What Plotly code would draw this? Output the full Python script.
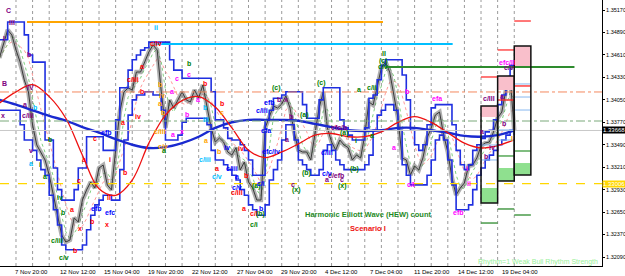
import plotly.graph_objects as go
import pandas as pd

# ---------------- data ----------------
# x = trading hours since Thu 8 Nov 2012 00:00 (H1 bars, weekends removed)
bar_hours = list(range(-24, 721, 6))
close_price = [
    1.34572, 1.34734, 1.34921, 1.34859, 1.34672, 1.34522, 1.34297, 1.34148, 1.33736, 1.33487,
    1.33400, 1.33300, 1.33113, 1.32863, 1.32577, 1.32365, 1.32277, 1.32302, 1.32577, 1.32527,
    1.32801, 1.32926, 1.33026, 1.32951, 1.33200, 1.33237, 1.32988, 1.32926, 1.33425, 1.33898,
    1.34148, 1.34198, 1.34173, 1.34397, 1.34397, 1.34522, 1.34647, 1.34734, 1.34672, 1.34148,
    1.33699, 1.34048, 1.33948, 1.34048, 1.34148, 1.34048, 1.34023, 1.34173, 1.34073, 1.34235,
    1.33986, 1.33699, 1.33524, 1.33574, 1.33524, 1.33400, 1.33362, 1.33454, 1.33175, 1.33275,
    1.33026, 1.32951, 1.32801, 1.32801, 1.33699, 1.33836, 1.33973, 1.33948, 1.33998, 1.34098,
    1.33948, 1.33649, 1.33425, 1.33400, 1.33400, 1.33300, 1.33649, 1.33948, 1.34148, 1.33699,
    1.33524, 1.33425, 1.33549, 1.33487, 1.33454, 1.33300, 1.33362, 1.33325, 1.33612, 1.34023,
    1.33986, 1.34235, 1.34447, 1.34522, 1.34397, 1.34110, 1.33824, 1.33325, 1.33300, 1.33113,
    1.33225, 1.33175, 1.33325, 1.33574, 1.33699, 1.33861, 1.33898, 1.33612, 1.33400, 1.33075,
    1.32863, 1.32951, 1.33013, 1.33225, 1.33237, 1.33325, 1.33474, 1.33512, 1.33524, 1.33649,
    1.33824, 1.33898, 1.34173, 1.34347, 1.33668]
upper_channel = [
    1.3480, 1.3480, 1.3502, 1.3502, 1.3502, 1.3502, 1.3486, 1.3461, 1.3452, 1.3452,
    1.3452, 1.3355, 1.3355, 1.3320, 1.3293, 1.3280, 1.3280, 1.3280, 1.3293, 1.3320,
    1.3320, 1.3359, 1.3359, 1.3359, 1.3359, 1.3342, 1.3342, 1.3342, 1.3380, 1.3420,
    1.3420, 1.3442, 1.3455, 1.3461, 1.3467, 1.3470, 1.3477, 1.3477, 1.3477, 1.3477,
    1.3477, 1.3455, 1.3442, 1.3442, 1.3432, 1.3432, 1.3432, 1.3432, 1.3432, 1.3432,
    1.3432, 1.3415, 1.3380, 1.3380, 1.3370, 1.3357, 1.3355, 1.3355, 1.3349, 1.3342,
    1.3330, 1.3311, 1.3311, 1.3311, 1.3380, 1.3392, 1.3407, 1.3407, 1.3411, 1.3415,
    1.3415, 1.3415, 1.3415, 1.3399, 1.3382, 1.3382, 1.3382, 1.3405, 1.3420, 1.3420,
    1.3420, 1.3420, 1.3380, 1.3370, 1.3361, 1.3355, 1.3355, 1.3355, 1.3370, 1.3407,
    1.3411, 1.3430, 1.3448, 1.3455, 1.3455, 1.3455, 1.3455, 1.3436, 1.3405, 1.3367,
    1.3349, 1.3342, 1.3349, 1.3374, 1.3395, 1.3399, 1.3399, 1.3399, 1.3399, 1.3374,
    1.3342, 1.3324, 1.3318, 1.3324, 1.3342, 1.3349, 1.3357, 1.3365, 1.3367, 1.3380,
    1.3399, 1.3411, 1.3430, 1.3448, 1.3448]
lower_channel = [
    1.3392, 1.3392, 1.3392, 1.3392, 1.3392, 1.3374, 1.3355, 1.3355, 1.3342, 1.3330,
    1.3318, 1.3311, 1.3286, 1.3268, 1.3249, 1.3224, 1.3218, 1.3218, 1.3218, 1.3218,
    1.3224, 1.3243, 1.3261, 1.3274, 1.3280, 1.3286, 1.3286, 1.3280, 1.3280, 1.3318,
    1.3355, 1.3386, 1.3405, 1.3411, 1.3411, 1.3415, 1.3415, 1.3411, 1.3411, 1.3392,
    1.3355, 1.3355, 1.3355, 1.3361, 1.3377, 1.3382, 1.3382, 1.3382, 1.3382, 1.3382,
    1.3374, 1.3342, 1.3330, 1.3330, 1.3324, 1.3318, 1.3311, 1.3305, 1.3293, 1.3286,
    1.3274, 1.3268, 1.3261, 1.3261, 1.3274, 1.3305, 1.3318, 1.3330, 1.3355, 1.3374,
    1.3374, 1.3355, 1.3330, 1.3324, 1.3318, 1.3311, 1.3311, 1.3318, 1.3342, 1.3349,
    1.3342, 1.3330, 1.3324, 1.3318, 1.3318, 1.3318, 1.3318, 1.3318, 1.3324, 1.3336,
    1.3367, 1.3386, 1.3392, 1.3399, 1.3399, 1.3392, 1.3367, 1.3324, 1.3311, 1.3299,
    1.3299, 1.3299, 1.3299, 1.3311, 1.3330, 1.3355, 1.3361, 1.3355, 1.3330, 1.3299,
    1.3268, 1.3268, 1.3268, 1.3274, 1.3293, 1.3311, 1.3320, 1.3330, 1.3336, 1.3342,
    1.3349, 1.3355, 1.3361, 1.3367, 1.3361]

ma_hours = list(range(-24, 721, 24))
red_ma = [1.3401, 1.3415, 1.3424, 1.3409, 1.3382, 1.3336, 1.3294, 1.3286, 1.3305, 1.3351,
          1.3386, 1.3404, 1.3409, 1.3396, 1.3370, 1.3342, 1.3333, 1.3340, 1.3350, 1.3361,
          1.3363, 1.3359, 1.3359, 1.3365, 1.3377, 1.3384, 1.3377, 1.3364, 1.3351, 1.3345,
          1.3348, 1.3355]
blue_ma = [1.3405, 1.3399, 1.3392, 1.3385, 1.3379, 1.3371, 1.3364, 1.3356, 1.3349, 1.3345,
           1.3346, 1.3351, 1.3359, 1.3370, 1.3377, 1.3380, 1.3380, 1.3380, 1.3379, 1.3375,
           1.3371, 1.3367, 1.3366, 1.3367, 1.3370, 1.3370, 1.3367, 1.3364, 1.3360, 1.3359,
           1.3361, 1.3367]

tick_hours = [-4, 60, 124, 188, 252, 316, 380, 444, 508, 572, 636, 700]
tick_text = ["7 Nov 20:00", "12 Nov 12:00", "15 Nov 04:00", "19 Nov 20:00", "22 Nov 12:00",
             "27 Nov 04:00", "29 Nov 20:00", "4 Dec 12:00", "7 Dec 04:00", "11 Dec 20:00",
             "14 Dec 12:00", "19 Dec 04:00"]
price_ticks = [1.32090, 1.32370, 1.32650, 1.32930, 1.33210, 1.33490, 1.33770,
               1.34050, 1.34330, 1.34610, 1.34890, 1.35170]
day_starts = list(range(0, 721, 24))

# horizontal target segments
seg_price = [1.35021, 1.34746, 1.34460]
seg_start = [15.9, 200.3, 534.6]
seg_end = [530.3, 631.0, 807.0]
# full-width levels
level_price = [1.34148, 1.33786, 1.33668, 1.33006]
bid_price = 1.33668
level_tag = 1.33006

# daily pivot boxes
box_start = [672, 696, 720]
box_end = [696, 720, 744]
box_top = [1.33973, 1.34347, 1.34721]
box_pink_bottom = [1.33836, 1.34173, 1.34472]
box_green_top = [1.32951, 1.33200, 1.33262]
box_bottom = [1.32764, 1.33038, 1.33113]
box_red_above = [1.34335, 1.34672, 1.35033]
box_green_below = [1.32514, 1.32689, 1.32614]
box_red_inner = [None, 1.34048, 1.34223]
box_green_inner = [None, 1.33350, 1.33412]
box_blue_inner_a = [1.33487, 1.33674, 1.34248]
box_blue_inner_b = [1.33300, 1.33549, 1.34085]
box_blue_inner_c = [None, None, 1.33923]

# wave labels per colour group
purple_h = [-11.5, -5.8, -17.3, -15.9, 18.7, 21.6, 13, 17.3, -18.7, 21.6, 400.6, 392, 449.6, 462.6,
            471.2, 380.4, 390.5, 397.7, 466.9, 711.9, 683, 701.8, 704.6, 673, 687.4, 678.7]
purple_p = [1.3517, 1.3502, 1.3482, 1.3426, 1.3461, 1.3421, 1.3399, 1.3385, 1.3386, 1.3342, 1.3300,
            1.3356, 1.3306, 1.3311, 1.3306, 1.3406, 1.3406, 1.3384, 1.3370, 1.3445, 1.3407, 1.3409,
            1.3376, 1.3365, 1.3346, 1.3334]
purple_t = ["C", "III", "I", "B", "b", "IV", "a", "c/iii", "x", "v", "c", "a", "a", "c/efb",
            "c", "b", "x", "b", "efc/b", "c/v", "c/III", "a", "b", "a", "iv", "b"]
red_h = [85, 92.2, 80.7, 90.8, 98, 109.5, 131.1, 134, 157, 135.5, 113.8, 154.2, 175.8, 168.6,
         181.6, 181.6, 201.7, 272.4, 298.3, 291.1, 333, 320, 330, 344.4, 325.7]
red_p = [1.3217, 1.3244, 1.3268, 1.3305, 1.3330, 1.3253, 1.3250, 1.3283, 1.3315, 1.3330, 1.3357,
         1.3377, 1.3384, 1.3430, 1.3446, 1.3416, 1.3475, 1.3426, 1.3400, 1.3319, 1.3311, 1.3290,
         1.3270, 1.3263, 1.3344]
red_t = ["b", "x", "a", "c", "a", "b", "x", "II", "b", "i", "c", "a", "iv", "c/iii",
         "a", "b", "c/iv", "b", "b", "a", "b", "c/iii", "a", "c/i", "iv"]
green_h = [34.6, 41.8, 49, 63.4, 67.7, 59, 69.2, 250.7, 213.3, 353, 344.4, 347.3, 405, 419.3,
           471.2, 488.5, 491.4, 514.4, 376.1, 416.4, 441, 474.1, 495.7, 514.4, 531.7, 531.7, 530.3]
green_p = [1.3324, 1.3309, 1.3356, 1.3283, 1.3264, 1.3230, 1.3209, 1.3450, 1.3342, 1.3263, 1.3250,
           1.3298, 1.3293, 1.3314, 1.3298, 1.3319, 1.3354, 1.3360, 1.3420, 1.3386, 1.3426, 1.3364,
           1.3418, 1.3420, 1.3463, 1.3453, 1.3446]
green_t = ["i", "a", "b", "iv", "b", "c/iii", "c/v", "b", "a", "(b)", "c/i", "(a)", "(x)", "(b)",
           "(x)", "(b)", "i", "a", "(c)", "(a)", "(c)", "(a)", "a", "c/ii", "II", "(c)", "c/v"]
blue_h = [116.7, 135.5, 131.1, 312.7, 320, 320, 354.5, 354.5, 369, 305.5, 449.6, 449.6, 366,
          355.9, 361.7]
blue_p = [1.3270, 1.3264, 1.3364, 1.3320, 1.3309, 1.3296, 1.3270, 1.3301, 1.3341, 1.3345, 1.3339,
          1.3313, 1.3402, 1.3392, 1.3367]
blue_t = ["efb", "efc", "efb", "c/iii", "a", "c/v", "b", "c/i", "efc/iv", "iv", "c/iii", "c/v",
          "efb", "c/iii", "efa"]
orange_h = [207.5, 210.4, 207.5, 211.8, 207.5, 211.8, 298.3, 275.2, 294, 716.2]
orange_p = [1.3424, 1.3411, 1.3400, 1.3389, 1.3365, 1.3347, 1.3389, 1.3354, 1.3340, 1.3357]
orange_t = ["b", "iv", "a", "b", "c/iii", "c/v", "c", "a", "b", "I"]
magenta_h = [232, 250.7, 224.8, 246.4, 262.3, 239.2, 226.2, 546.1, 608.1, 564.9, 570.6, 639.8,
             654.2, 651.3, 709]
magenta_p = [1.3431, 1.3437, 1.3415, 1.3387, 1.3406, 1.3365, 1.3362, 1.3345, 1.3407, 1.3415,
             1.3299, 1.3264, 1.3301, 1.3320, 1.3452]
magenta_t = ["c", "c", "a", "b", "a", "x", "a", "a", "efa", "b", "c/I", "efb", "ii", "i", "efc/II"]
cyan_h = [27.4, 21.6, 201.7, 272.4, 275.2, 272.4, 291.1]
cyan_p = [1.3395, 1.3326, 1.3495, 1.3395, 1.3380, 1.3331, 1.3309]
cyan_t = ["b", "a", "ii", "b", "iii", "c/iii", "c/v"]

# ---------------- figure ----------------
FONT = "Liberation Sans, Arial, sans-serif"
fig = go.Figure()

close_s = pd.Series(close_price)
fast_ma = close_s.rolling(3, min_periods=1).mean()
slow_ma = close_s.rolling(6, min_periods=1).mean()

fig.add_trace(go.Scatter(x=bar_hours, y=slow_ma, mode="lines",
                         line=dict(color="#ff9a9a", width=1, dash="dot")))
fig.add_trace(go.Scatter(x=bar_hours, y=fast_ma, mode="lines",
                         line=dict(color="#7fcf7f", width=1, dash="dot")))
fig.add_trace(go.Scatter(x=bar_hours, y=close_price, mode="lines",
                         line=dict(color="rgba(95,95,95,0.5)", width=4.5)))
fig.add_trace(go.Scatter(x=bar_hours, y=close_price, mode="lines",
                         line=dict(color="#3a3a3a", width=1)))
fig.add_trace(go.Scatter(x=bar_hours, y=upper_channel, mode="lines",
                         line=dict(color="#1f2fe0", width=1.6, shape="hv")))
fig.add_trace(go.Scatter(x=bar_hours, y=lower_channel, mode="lines",
                         line=dict(color="#1f2fe0", width=1.6, shape="hv")))
fig.add_trace(go.Scatter(x=ma_hours, y=blue_ma, mode="lines",
                         line=dict(color="#1a2ad0", width=2.4, shape="spline")))
fig.add_trace(go.Scatter(x=ma_hours, y=red_ma, mode="lines",
                         line=dict(color="#ee1111", width=1.3, shape="spline")))

seg_colors = ["#FFA500", "#00BFFF", "#2E8B2E"]
for p, s, e, c in zip(seg_price, seg_start, seg_end, seg_colors):
    fig.add_trace(go.Scatter(x=[s, e], y=[p, p], mode="lines", line=dict(color=c, width=2)))

shapes = []
for d in day_starts:
    shapes.append(dict(type="line", xref="x", yref="paper", x0=d, x1=d, y0=0, y1=1,
                       line=dict(color="#9a9a9a", width=1, dash="dot"), layer="below"))
level_styles = [("#F4895F", "dashdot", 1), ("#7AA97A", "dashdot", 1),
                ("#C8C8C8", "solid", 1), ("#FFD700", "dash", 1.2)]
for p, (c, dsh, w) in zip(level_price, level_styles):
    shapes.append(dict(type="line", xref="paper", yref="y", x0=0, x1=1, y0=p, y1=p,
                       line=dict(color=c, width=w, dash=dsh)))

for i in range(3):
    x0, x1 = box_start[i], box_end[i]
    shapes.append(dict(type="rect", x0=x0, x1=x1, y0=box_pink_bottom[i], y1=box_top[i],
                       fillcolor="#F9BFCB", line=dict(width=0)))
    shapes.append(dict(type="rect", x0=x0, x1=x1, y0=box_bottom[i], y1=box_green_top[i],
                       fillcolor="#8FE08F", line=dict(width=0)))
    for val, col, w in [(box_red_above[i], "#FF3030", 1.3), (box_green_below[i], "#2E8B2E", 1.3),
                        (box_red_inner[i], "#FF2020", 1.3), (box_green_inner[i], "#3C9A3C", 1.3),
                        (box_blue_inner_a[i], "#87B8F0", 1), (box_blue_inner_b[i], "#87B8F0", 1),
                        (box_blue_inner_c[i], "#87B8F0", 1)]:
        if val is not None:
            shapes.append(dict(type="line", x0=x0, x1=x1, y0=val, y1=val,
                               line=dict(color=col, width=w)))
    shapes.append(dict(type="rect", x0=x0, x1=x1, y0=box_bottom[i], y1=box_top[i],
                       fillcolor="rgba(0,0,0,0)", line=dict(color="#111111", width=1.5)))

annotations = []
groups = [(purple_h, purple_p, purple_t, "#800080"), (red_h, red_p, red_t, "#FF0000"),
          (green_h, green_p, green_t, "#008000"), (blue_h, blue_p, blue_t, "#0000FF"),
          (orange_h, orange_p, orange_t, "#FFA500"), (magenta_h, magenta_p, magenta_t, "#FF00FF"),
          (cyan_h, cyan_p, cyan_t, "#00BFFF")]
for hs, ps, ts, col in groups:
    for h, p, t in zip(hs, ps, ts):
        annotations.append(dict(x=h, y=p, xref="x", yref="y", text="<b>%s</b>" % t,
                                showarrow=False, xanchor="center", yanchor="middle",
                                font=dict(family=FONT, size=7, color=col)))

for h, t in zip(tick_hours, tick_text):
    annotations.append(dict(x=h, y=0, xref="x", yref="paper", text=t, showarrow=False,
                            xanchor="left", yanchor="top", yshift=-1,
                            font=dict(family=FONT, size=6, color="#000000")))

annotations.append(dict(x=0.611, y=1 - 214 / 266, xref="paper", yref="paper",
                        xanchor="center", yanchor="middle",
                        text="<b>Harmonic Elliott Wave (HEW) count</b>", showarrow=False,
                        font=dict(family=FONT, size=7.5, color="#1E8A1E")))
annotations.append(dict(x=0.611, y=1 - 228 / 266, xref="paper", yref="paper",
                        xanchor="center", yanchor="middle",
                        text="<b>Scenario I</b>", showarrow=False,
                        font=dict(family=FONT, size=7.5, color="#EE1111")))
annotations.append(dict(x=0.996, y=1 - 262 / 266, xref="paper", yref="paper",
                        xanchor="right", yanchor="middle",
                        text="Rhythm=1 Weak Bull Rhythm Strength", showarrow=False,
                        font=dict(family=FONT, size=7, color="#9AF09A")))
annotations.append(dict(x=1.0, y=bid_price, xref="paper", yref="y", xanchor="left",
                        yanchor="middle", text="%.5f" % bid_price, showarrow=False,
                        bgcolor="#000000", borderpad=0,
                        font=dict(family=FONT, size=6, color="#FFFFFF")))
annotations.append(dict(x=1.0, y=level_tag, xref="paper", yref="y", xanchor="left",
                        yanchor="middle", text="%.5f" % level_tag, showarrow=False,
                        bgcolor="#FFD700", borderpad=0,
                        font=dict(family=FONT, size=6, color="#FFFFFF")))

fig.update_layout(
    width=625, height=276, margin=dict(l=0, r=23, t=0, b=10),
    paper_bgcolor="white", plot_bgcolor="white", showlegend=False,
    shapes=shapes, annotations=annotations,
    xaxis=dict(range=[-23.1, 846.8], showgrid=False, zeroline=False, showticklabels=False,
               showline=True, linecolor="#000000", linewidth=1, fixedrange=True),
    yaxis=dict(range=[1.31978, 1.35295], side="right", showgrid=False, zeroline=False,
               tickvals=price_ticks, ticktext=["%.5f" % v for v in price_ticks],
               ticks="outside", ticklen=2, tickcolor="#000000",
               tickfont=dict(family=FONT, size=5.5, color="#000000"),
               showline=True, linecolor="#000000", linewidth=1, automargin=False),
)
fig.write_html("out.html")
